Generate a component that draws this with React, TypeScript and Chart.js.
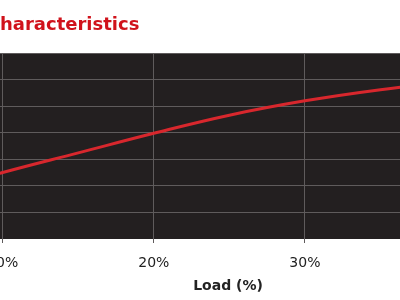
import React, { useEffect, useRef } from "react";
import { Chart, registerables } from "chart.js";

Chart.register(...registerables);

const loadPct = [5, 10, 15, 20, 25, 30, 35, 40];
const efficiency = [68.5, 72.5, 76.2, 79.9, 83.3, 86.0, 88.1, 89.7];
const yTicks = [60, 65, 70, 75, 80, 85, 90, 95];
const xTickValues = [10, 20, 30, 40];
const titleText = "haracteristics";
const xAxisTitle = "Load (%)";

const plotBg = {
  id: "plotBg",
  beforeDraw(chart: any) {
    const { ctx, chartArea } = chart;
    if (!chartArea) return;
    ctx.save();
    ctx.fillStyle = "#231f20";
    ctx.fillRect(chartArea.left, chartArea.top, chartArea.right - chartArea.left, chartArea.bottom - chartArea.top);
    ctx.restore();
  },
};

export default function App() {
  const ref = useRef<HTMLCanvasElement | null>(null);
  useEffect(() => {
    document.body.style.margin = "0";
    if (!ref.current) return;
    const chart = new Chart(ref.current, {
      type: "line",
      data: {
        datasets: [
          {
            data: loadPct.map((x, i) => ({ x, y: efficiency[i] })),
            borderColor: "#d8272d",
            borderWidth: 3,
            pointRadius: 0,
            tension: 0.4,
            fill: false,
          },
        ],
      },
      options: {
        responsive: false,
        animation: false,
        layout: { autoPadding: false, padding: 0 },
        plugins: {
          legend: { display: false },
          tooltip: { enabled: false },
          title: {
            display: true,
            text: titleText,
            align: "start",
            color: "#d0121b",
            font: { family: "DejaVu Sans", size: 18, weight: "bold" },
            padding: { top: 14.7, bottom: 16.7 },
          },
        },
        scales: {
          x: {
            type: "linear",
            min: 9.82,
            max: 40,
            afterBuildTicks: (axis: any) => {
              axis.ticks = xTickValues.map((v) => ({ value: v }));
            },
            afterFit: (axis: any) => {
              axis.height = 61;
              axis.paddingLeft = 0;
              axis.paddingRight = 0;
            },
            grid: { color: "#5f5b5c", lineWidth: 1, tickLength: 4, drawTicks: true },
            border: { display: false },
            ticks: {
              color: "#222",
              font: { family: "DejaVu Sans", size: 14 },
              padding: 11.8,
              maxRotation: 0,
              autoSkip: false,
              callback: (v: any) => v + "%",
            },
            title: {
              display: true,
              text: xAxisTitle,
              color: "#222",
              font: { family: "DejaVu Sans", size: 14, weight: "bold" },
              padding: { top: 6.2, bottom: 5.4 },
            },
          },
          y: {
            min: yTicks[0],
            max: yTicks[yTicks.length - 1],
            afterBuildTicks: (axis: any) => {
              axis.ticks = yTicks.map((v) => ({ value: v }));
            },
            afterFit: (axis: any) => {
              axis.width = 0;
              axis.paddingTop = 0;
              axis.paddingBottom = 0;
            },
            grid: {
              color: (c: any) => (c.tick && c.tick.value === yTicks[0] ? "rgba(0,0,0,0)" : "#5f5b5c"),
              lineWidth: 1,
              drawTicks: false,
            },
            border: { display: false },
            ticks: { display: false },
          },
        },
      },
      plugins: [plotBg],
    });
    return () => chart.destroy();
  }, []);
  return (
    <div style={{ position: "fixed", left: 0, top: 0, width: 400, height: 300, overflow: "hidden", background: "#fff" }}>
      <canvas ref={ref} width={456} height={300} style={{ display: "block" }} />
    </div>
  );
}
